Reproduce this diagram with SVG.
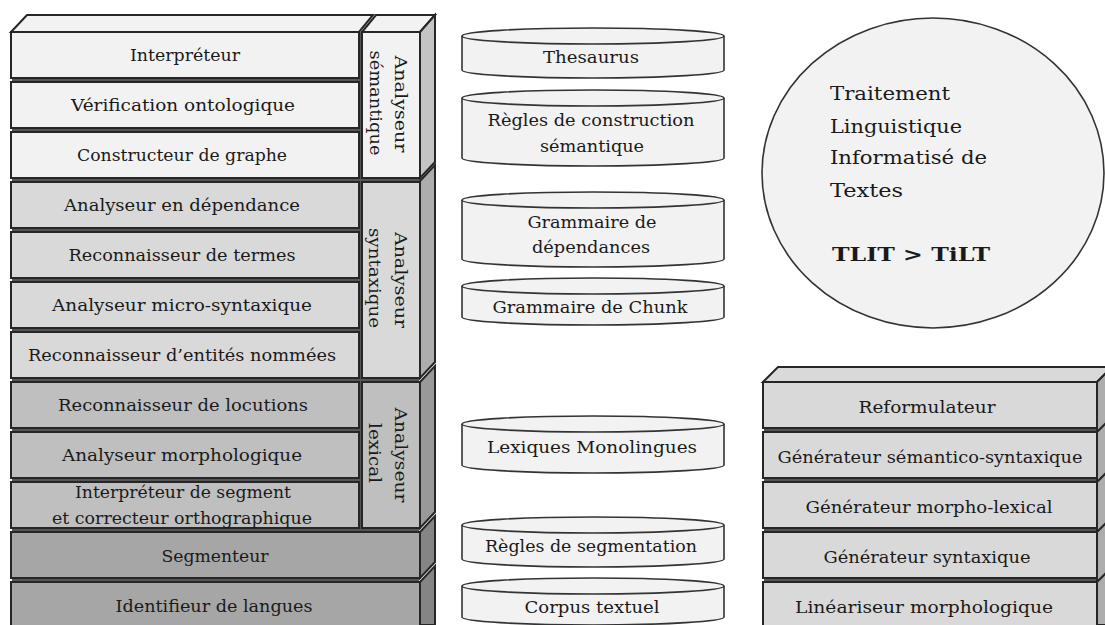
<svg xmlns="http://www.w3.org/2000/svg" width="1105" height="625" viewBox="0 0 1105 625">
<style>
.t{font-family:"DejaVu Serif","Liberation Serif",serif;font-size:16px;fill:#1a1a1a;text-anchor:middle}
.e{font-family:"DejaVu Serif","Liberation Serif",serif;font-size:19px;fill:#1a1a1a}
.b{stroke:#262626;stroke-width:2}
.s1{fill:#f2f2f2}.s2{fill:#d9d9d9}.s3{fill:#bfbfbf}.s4{fill:#a6a6a6}
.f1{fill:#c4c4c4}.f2{fill:#adadad}.f3{fill:#999999}.f4{fill:#858585}
.cyl{fill:#f2f2f2;stroke:#333;stroke-width:1.6}
</style>
<rect width="1105" height="625" fill="#ffffff"/>

<!-- left stack backdrop for gaps -->
<rect x="12" y="33" width="407" height="592" fill="#555555"/>

<!-- top faces -->
<polygon class="b s1" points="11,32 27,15 373,15 359,32"/>
<polygon class="b s1" points="362,32 376,15 435,15 420,32"/>

<!-- side faces -->
<polygon class="b f1" points="420,32 435,15 435,162 420,178"/>
<polygon class="b f2" points="420,181 435,165 435,362 420,378"/>
<polygon class="b f3" points="420,382 435,366 435,512 420,528"/>
<polygon class="b f4" points="420,532 435,516 435,562 420,578"/>
<polygon class="b f4" points="420,582 435,566 435,625 420,625"/>

<g id="interpreteur"><rect class="b s1" x="11" y="32" width="348" height="46"/><text class="t" x="185" y="61" textLength="110" lengthAdjust="spacingAndGlyphs">Interpréteur</text></g>
<g id="verification"><rect class="b s1" x="11" y="82" width="348" height="46"/><text class="t" x="183" y="111" textLength="224" lengthAdjust="spacingAndGlyphs">Vérification ontologique</text></g>
<g id="constructeur"><rect class="b s1" x="11" y="132" width="348" height="46"/><text class="t" x="182" y="161" textLength="210" lengthAdjust="spacingAndGlyphs">Constructeur de graphe</text></g>
<g id="dependance"><rect class="b s2" x="11" y="182" width="348" height="46"/><text class="t" x="182" y="211" textLength="236" lengthAdjust="spacingAndGlyphs">Analyseur en dépendance</text></g>
<g id="termes"><rect class="b s2" x="11" y="232" width="348" height="46"/><text class="t" x="182" y="261" textLength="227" lengthAdjust="spacingAndGlyphs">Reconnaisseur de termes</text></g>
<g id="micro"><rect class="b s2" x="11" y="282" width="348" height="46"/><text class="t" x="182" y="311" textLength="260" lengthAdjust="spacingAndGlyphs">Analyseur micro-syntaxique</text></g>
<g id="entites"><rect class="b s2" x="11" y="332" width="348" height="46"/><text class="t" x="182" y="361" textLength="308" lengthAdjust="spacingAndGlyphs">Reconnaisseur d’entités nommées</text></g>
<g id="locutions"><rect class="b s3" x="11" y="382" width="348" height="46"/><text class="t" x="183" y="411" textLength="250" lengthAdjust="spacingAndGlyphs">Reconnaisseur de locutions</text></g>
<g id="morphologique"><rect class="b s3" x="11" y="432" width="348" height="46"/><text class="t" x="182" y="461" textLength="240" lengthAdjust="spacingAndGlyphs">Analyseur morphologique</text></g>
<g id="segment"><rect class="b s3" x="11" y="482" width="348" height="46"/><text class="t" x="183" y="498" textLength="216" lengthAdjust="spacingAndGlyphs">Interpréteur de segment</text><text class="t" x="182" y="524" textLength="260" lengthAdjust="spacingAndGlyphs">et correcteur orthographique</text></g>
<g id="segmenteur"><rect class="b s4" x="11" y="532" width="409" height="46"/><text class="t" x="215" y="562" textLength="107" lengthAdjust="spacingAndGlyphs">Segmenteur</text></g>
<g id="identifieur"><rect class="b s4" x="11" y="582" width="409" height="50"/><text class="t" x="214" y="612" textLength="197" lengthAdjust="spacingAndGlyphs">Identifieur de langues</text></g>

<g id="analyseur-semantique"><rect class="b s1" x="362" y="32" width="58" height="146"/>
<text class="t" transform="translate(395,104) rotate(90)" textLength="97" lengthAdjust="spacingAndGlyphs">Analyseur</text>
<text class="t" transform="translate(370,103) rotate(90)" textLength="105" lengthAdjust="spacingAndGlyphs">sémantique</text></g>
<g id="analyseur-syntaxique"><rect class="b s2" x="362" y="182" width="58" height="196"/>
<text class="t" transform="translate(395,280) rotate(90)" textLength="96" lengthAdjust="spacingAndGlyphs">Analyseur</text>
<text class="t" transform="translate(369,278) rotate(90)" textLength="100" lengthAdjust="spacingAndGlyphs">syntaxique</text></g>
<g id="analyseur-lexical"><rect class="b s3" x="362" y="382" width="58" height="146"/>
<text class="t" transform="translate(395,455) rotate(90)" textLength="95" lengthAdjust="spacingAndGlyphs">Analyseur</text>
<text class="t" transform="translate(369,453) rotate(90)" textLength="60" lengthAdjust="spacingAndGlyphs">lexical</text></g>

<!-- cylinders -->
<g id="thesaurus"><path class="cyl" d="M462,36 V70 A131,8 0 0 0 724,70 V36"/><ellipse class="cyl" cx="593" cy="36" rx="131" ry="8"/><text class="t" x="591" y="63" textLength="96" lengthAdjust="spacingAndGlyphs">Thesaurus</text></g>
<g id="regles-construction"><path class="cyl" d="M462,98 V158 A131,8 0 0 0 724,158 V98"/><ellipse class="cyl" cx="593" cy="98" rx="131" ry="8"/><text class="t" x="591" y="126" textLength="207" lengthAdjust="spacingAndGlyphs">Règles de construction</text><text class="t" x="592" y="152" textLength="104" lengthAdjust="spacingAndGlyphs">sémantique</text></g>
<g id="grammaire-dependances"><path class="cyl" d="M462,200 V259 A131,8 0 0 0 724,259 V200"/><ellipse class="cyl" cx="593" cy="200" rx="131" ry="8"/><text class="t" x="592" y="228" textLength="129" lengthAdjust="spacingAndGlyphs">Grammaire de</text><text class="t" x="591" y="253" textLength="118" lengthAdjust="spacingAndGlyphs">dépendances</text></g>
<g id="grammaire-chunk"><path class="cyl" d="M462,286 V317 A131,8 0 0 0 724,317 V286"/><ellipse class="cyl" cx="593" cy="286" rx="131" ry="8"/><text class="t" x="590" y="313" textLength="195" lengthAdjust="spacingAndGlyphs">Grammaire de Chunk</text></g>
<g id="lexiques"><path class="cyl" d="M462,424 V465 A131,8 0 0 0 724,465 V424"/><ellipse class="cyl" cx="593" cy="424" rx="131" ry="8"/><text class="t" x="592" y="453" textLength="210" lengthAdjust="spacingAndGlyphs">Lexiques Monolingues</text></g>
<g id="regles-segmentation"><path class="cyl" d="M462,525 V559 A131,8 0 0 0 724,559 V525"/><ellipse class="cyl" cx="593" cy="525" rx="131" ry="8"/><text class="t" x="591" y="552" textLength="212" lengthAdjust="spacingAndGlyphs">Règles de segmentation</text></g>
<g id="corpus"><path class="cyl" d="M462,586 V617 A131,8 0 0 0 724,617 V586"/><ellipse class="cyl" cx="593" cy="586" rx="131" ry="8"/><text class="t" x="592" y="613" textLength="135" lengthAdjust="spacingAndGlyphs">Corpus textuel</text></g>

<!-- ellipse -->
<g id="tilt"><ellipse cx="933" cy="173" rx="171" ry="155" fill="#f2f2f2" stroke="#333" stroke-width="1.6"/>
<text class="e" x="830" y="100" textLength="120" lengthAdjust="spacingAndGlyphs">Traitement</text>
<text class="e" x="830" y="133" textLength="132" lengthAdjust="spacingAndGlyphs">Linguistique</text>
<text class="e" x="830" y="164" textLength="157" lengthAdjust="spacingAndGlyphs">Informatisé de</text>
<text class="e" x="830" y="197" textLength="73" lengthAdjust="spacingAndGlyphs">Textes</text>
<text class="e" x="832" y="261" font-weight="bold" textLength="158" lengthAdjust="spacingAndGlyphs">TLIT &gt; TiLT</text></g>

<!-- right stack -->
<rect x="764" y="383" width="332" height="242" fill="#555555"/>
<polygon class="b s2" points="763,382 778,367 1112,367 1097,382"/>
<polygon class="b f2" points="1097,382 1112,367 1112,625 1097,625"/>
<line x1="1097" y1="432" x2="1112" y2="417" class="b"/>
<line x1="1097" y1="482" x2="1112" y2="467" class="b"/>
<line x1="1097" y1="532" x2="1112" y2="517" class="b"/>
<line x1="1097" y1="582" x2="1112" y2="567" class="b"/>
<g id="reformulateur"><rect class="b s2" x="763" y="382" width="334" height="46"/><text class="t" x="927" y="413" textLength="137" lengthAdjust="spacingAndGlyphs">Reformulateur</text></g>
<g id="gen-semantico"><rect class="b s2" x="763" y="432" width="334" height="46"/><text class="t" x="930" y="463" textLength="305" lengthAdjust="spacingAndGlyphs">Générateur sémantico-syntaxique</text></g>
<g id="gen-morpho"><rect class="b s2" x="763" y="482" width="334" height="46"/><text class="t" x="929" y="513" textLength="247" lengthAdjust="spacingAndGlyphs">Générateur morpho-lexical</text></g>
<g id="gen-syntaxique"><rect class="b s2" x="763" y="532" width="334" height="46"/><text class="t" x="927" y="563" textLength="207" lengthAdjust="spacingAndGlyphs">Générateur syntaxique</text></g>
<g id="linearisateur"><rect class="b s2" x="763" y="582" width="334" height="50"/><text class="t" x="924" y="613" textLength="258" lengthAdjust="spacingAndGlyphs">Linéariseur morphologique</text></g>
<g id="connectors"/>
</svg>
